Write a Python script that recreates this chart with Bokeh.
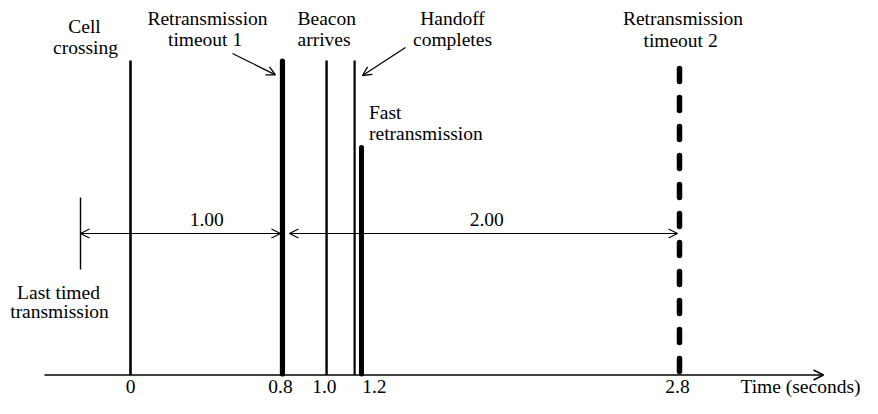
from bokeh.plotting import figure
from bokeh.models import Range1d, Arrow, OpenHead, ColumnDataSource
from bokeh.core.properties import value
from bokeh.embed import file_html
from bokeh.resources import INLINE

# ---------------- data (times in seconds) ----------------
event_names = ["Last timed transmission", "Cell crossing", "Retransmission timeout 1",
               "Beacon arrives", "Handoff completes", "Fast retransmission",
               "Retransmission timeout 2"]
event_times = [-0.255, 0.0, 0.775, 1.0, 1.143, 1.178, 2.8]

tick_labels = ["0", "0.8", "1.0", "1.2", "2.8"]
tick_positions = [0.0, 0.765, 0.989, 1.244, 2.79]

interval_labels = ["1.00", "2.00"]
interval_from = [0, 2]   # index into events
interval_to = [2, 6]

# ---------------- layout ----------------
W, H = 862, 398
ORIGIN_PX = 130.0      # canvas x of t = 0
PX_PER_S = 196.07


def sx(px):
    """canvas-pixel x -> time coordinate (layout helper for annotations)"""
    return (px - ORIGIN_PX) / PX_PER_S


p = figure(width=W, height=H, output_backend="svg", toolbar_location=None,
           x_range=Range1d(sx(0), sx(W)), y_range=Range1d(H, 0),
           x_axis_location=None, y_axis_location=None, min_border=0)
p.grid.visible = False
p.outline_line_color = None
p.background_fill_color = "white"
p.border_fill_color = "white"

FONT = value("Liberation Serif")
FS = "19.5px"
MID = 6.6            # baseline -> vertical middle of the text
AXIS_Y = 374.5
LABEL_BASE = 393

# event line geometry/style (layout only)
tops = [197, 60, 60.5, 60, 60, 147, 68]
bottoms = [269, AXIS_Y, AXIS_Y - 1, AXIS_Y, AXIS_Y, AXIS_Y - 1, 372]
widths = [1.4, 2.6, 5.2, 2.4, 2.2, 5.0, 5.5]


def src(idx):
    return ColumnDataSource(dict(
        x=[event_times[i] for i in idx], y0=[tops[i] for i in idx],
        y1=[bottoms[i] for i in idx], w=[widths[i] for i in idx]))


p.segment(x0="x", y0="y0", x1="x", y1="y1", line_width="w", line_color="black",
          source=src([0, 1, 3, 4]))
p.segment(x0="x", y0="y0", x1="x", y1="y1", line_width="w", line_color="black",
          line_cap="round", source=src([2, 5]))
p.segment(x0="x", y0="y0", x1="x", y1="y1", line_width="w", line_color="black",
          line_cap="round", line_dash="13 16", source=src([6]))

# time axis with arrow
p.add_layout(Arrow(x_start=sx(44), y_start=AXIS_Y, x_end=sx(823), y_end=AXIS_Y,
                   line_width=1.5, line_color="black",
                   end=OpenHead(size=10, line_width=1.5, line_color="black")))

# interval arrows
ARR_Y = 233
gaps_start = [0.0, 7.0]
gaps_end = [2.0, 2.0]
for k in range(len(interval_labels)):
    xs = event_times[interval_from[k]] + gaps_start[k] / PX_PER_S
    xe = event_times[interval_to[k]] - gaps_end[k] / PX_PER_S
    p.add_layout(Arrow(x_start=xs, y_start=ARR_Y, x_end=xe, y_end=ARR_Y,
                       line_width=1.2, line_color="black",
                       start=OpenHead(size=9, line_width=1.2, line_color="black"),
                       end=OpenHead(size=9, line_width=1.2, line_color="black")))


def put_text(xs_px, bases, texts, align):
    p.text(x=[sx(v) for v in xs_px], y=[b - MID for b in bases], text=texts,
           text_font=FONT, text_font_size=FS, text_align=align,
           text_baseline="middle", text_color="black")


put_text([206.3, 486.3], [226, 226], interval_labels, "center")

# pointer arrows
p.add_layout(Arrow(x_start=sx(232), y_start=53, x_end=sx(275), y_end=74.3,
                   line_width=1.3, line_color="black",
                   end=OpenHead(size=9, line_width=1.3, line_color="black")))
p.add_layout(Arrow(x_start=sx(405), y_start=47, x_end=sx(362), y_end=75,
                   line_width=1.3, line_color="black",
                   end=OpenHead(size=9, line_width=1.3, line_color="black")))

# event labels (two lines each)
centered = [
    ("Cell", 84, 32.3), ("crossing", 85, 53.3),
    ("Retransmission", 207, 25), ("timeout  1", 207, 46),
    ("Handoff", 452, 24.3), ("completes", 452, 45.7),
    ("Retransmission", 682.5, 25), ("timeout  2", 682.5, 46.7),
    ("Last timed", 58, 298.3), ("transmission", 59, 317.3),
]
left = [
    ("Beacon", 297, 25), ("arrives", 297, 45.7),
    ("Fast", 368.5, 118.3), ("retransmission", 368.5, 140),
]
put_text([c[1] for c in centered], [c[2] for c in centered],
         [c[0] for c in centered], "center")
put_text([c[1] for c in left], [c[2] for c in left], [c[0] for c in left], "left")
put_text([860], [LABEL_BASE], ["Time (seconds)"], "right")

# tick labels
p.text(x=tick_positions, y=[LABEL_BASE - MID] * len(tick_labels), text=tick_labels,
       text_font=FONT, text_font_size=FS, text_align="center",
       text_baseline="middle", text_color="black")

open("out.html", "w").write(file_html(p, INLINE))
